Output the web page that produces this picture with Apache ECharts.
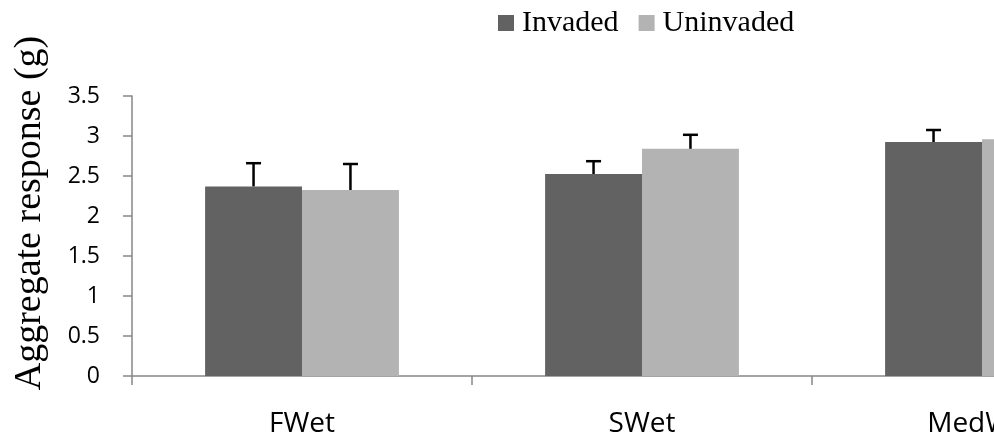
<!DOCTYPE html>
<html>
<head>
<meta charset="utf-8">
<script src="https://cdn.jsdelivr.net/npm/echarts@6/dist/echarts.min.js"></script>
<style>
html,body{margin:0;padding:0;background:#fff;overflow:hidden;}
#wrap{width:994px;height:444px;overflow:hidden;position:relative;}
#chart{width:1200px;height:444px;}
</style>
</head>
<body>
<div id="wrap"><div id="chart"></div></div>
<script>
const categories = ['FWet', 'SWet', 'MedWet'];
const seriesNames = ['Invaded', 'Uninvaded'];
const invaded = [2.37, 2.525, 2.925];
const uninvaded = [2.325, 2.84, 2.96];
const invadedErr = [0.29, 0.16, 0.15];
const uninvadedErr = [0.325, 0.175, 0.15];
const yTicks = [0, 0.5, 1, 1.5, 2, 2.5, 3, 3.5];
const yTitle = 'Aggregate response (g)';

const colors = ['#626262', '#b3b3b3'];
const catGap = 0.43;

function errSeries(values, errs, side) {
  return {
    type: 'custom',
    silent: true,
    z: 5,
    data: values.map((v, i) => [i, v, v + errs[i]]),
    renderItem: function (params, api) {
      const band = api.size([1, 0])[0];
      const bw = band * (1 - catGap) / 2;
      const base = api.coord([api.value(0), api.value(1)]);
      const top = api.coord([api.value(0), api.value(2)]);
      const x = base[0] + side * bw / 2;
      const cap = 7.5;
      const st = { stroke: '#000', lineWidth: 2.5 };
      return {
        type: 'group',
        children: [
          { type: 'line', shape: { x1: x, y1: base[1], x2: x, y2: top[1] }, style: st },
          { type: 'line', shape: { x1: x - cap, y1: top[1], x2: x + cap, y2: top[1] }, style: st }
        ]
      };
    }
  };
}

const chart = echarts.init(document.getElementById('chart'), null, { renderer: 'canvas' });
chart.setOption({
  animation: false,
  backgroundColor: '#fff',
  color: colors,
  legend: {
    data: seriesNames,
    left: 493,
    top: 3,
    icon: 'rect',
    itemWidth: 16,
    itemHeight: 16,
    itemGap: 20,
    textStyle: { fontFamily: 'Liberation Serif', fontSize: 30, color: '#000', padding: [0, 0, 0, 3] }
  },
  graphic: [{
    type: 'text',
    x: 30,
    y: 213,
    rotation: Math.PI / 2,
    style: {
      text: yTitle,
      font: '38px "Liberation Serif"',
      fill: '#000',
      textAlign: 'center',
      textVerticalAlign: 'middle'
    }
  }],
  grid: { left: 132, top: 96, right: 48, bottom: 68 },
  xAxis: {
    type: 'category',
    data: categories,
    axisLine: { lineStyle: { color: '#868686', width: 1.5 } },
    axisTick: { show: true, length: 9, lineStyle: { color: '#868686', width: 1.5 } },
    axisLabel: { margin: 34, fontFamily: 'Open Sans', fontSize: 28, color: '#000' },
    splitLine: { show: false }
  },
  yAxis: {
    type: 'value',
    min: yTicks[0],
    max: yTicks[yTicks.length - 1],
    interval: 0.5,
    axisLine: { show: true, lineStyle: { color: '#868686', width: 1.5 } },
    axisTick: { show: true, length: 9, lineStyle: { color: '#868686', width: 1.5 } },
    axisLabel: { margin: 32, fontFamily: 'Open Sans', fontSize: 23, color: '#000' },
    splitLine: { show: false }
  },
  series: [
    { name: seriesNames[0], type: 'bar', data: invaded, barGap: '0%', barCategoryGap: (catGap * 100) + '%', itemStyle: { color: colors[0] } },
    { name: seriesNames[1], type: 'bar', data: uninvaded, barGap: '0%', barCategoryGap: (catGap * 100) + '%', itemStyle: { color: colors[1] } },
    errSeries(invaded, invadedErr, -1),
    errSeries(uninvaded, uninvadedErr, 1)
  ]
});
</script>
</body>
</html>
